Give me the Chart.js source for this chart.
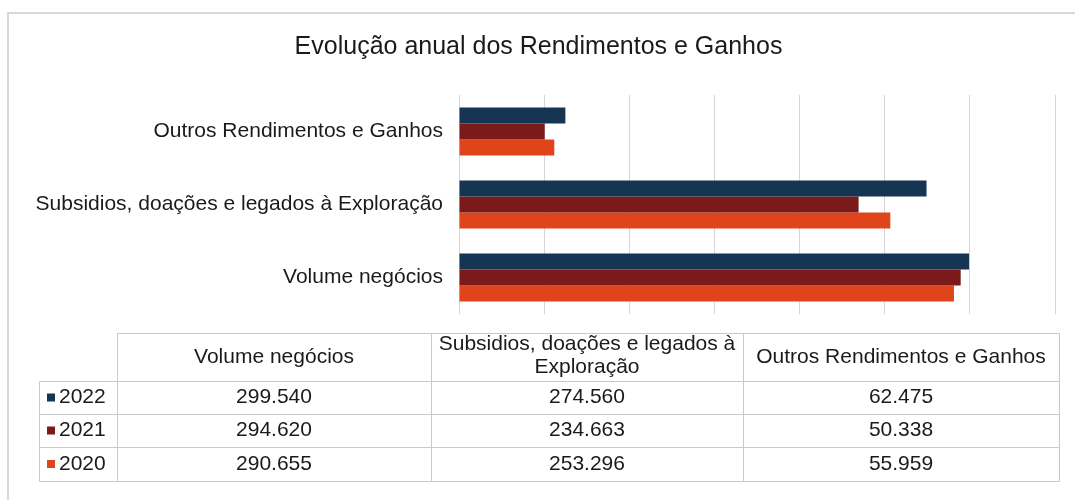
<!DOCTYPE html>
<html>
<head>
<meta charset="utf-8">
<script src="https://cdn.jsdelivr.net/npm/chart.js@4/dist/chart.umd.min.js"></script>
<style>
html,body{margin:0;padding:0;background:#fff;}
#wrap{position:relative;width:1075px;height:500px;}
</style>
</head>
<body>
<div id="wrap"><canvas id="c" width="1075" height="500"></canvas></div>
<script>
// ---- data ----
const titleText = 'Evolução anual dos Rendimentos e Ganhos';
const categories = ['Volume negócios', 'Subsidios, doações e legados à Exploração', 'Outros Rendimentos e Ganhos'];
const years = ['2022', '2021', '2020'];
const values2022 = [299540, 274560, 62475];
const values2021 = [294620, 234663, 50338];
const values2020 = [290655, 253296, 55959];
const xTickValues = [0, 50000, 100000, 150000, 200000, 250000, 300000, 350000];

const seriesValues = [values2022, values2021, values2020];
const seriesColors = ['#163552', '#7a1a1a', '#e0441a'];
const FONT = '"Liberation Sans", Arial, sans-serif';

function fmt(v) {
  return String(v).replace(/\B(?=(\d{3})+(?!\d))/g, '.');
}

// chart categories run top-to-bottom in reverse table order
const chartLabels = categories.slice().reverse();
const datasets = years.map((y, i) => ({
  label: y,
  data: seriesValues[i].slice().reverse(),
  backgroundColor: seriesColors[i],
  borderWidth: 0,
  categoryPercentage: 0.66,
  barPercentage: 1.0
}));

const framePlugin = {
  id: 'frame',
  beforeDraw(chart) {
    const ctx = chart.ctx;
    ctx.save();
    ctx.fillStyle = '#fff';
    ctx.fillRect(0, 0, chart.width, chart.height);
    ctx.strokeStyle = '#d9d9d9';
    ctx.lineWidth = 2;
    ctx.beginPath();
    ctx.moveTo(8, 500); ctx.lineTo(8, 13); ctx.lineTo(1075, 13);
    ctx.stroke();
    ctx.restore();
  }
};

const tablePlugin = {
  id: 'dataTable',
  afterDraw(chart) {
    const ctx = chart.ctx;
    const colX = [117, 431, 743, 1059];
    const legL = 39;
    const rowY = [333, 381, 414, 447, 481];
    ctx.save();
    ctx.strokeStyle = '#c9c9c9';
    ctx.lineWidth = 1;
    ctx.beginPath();
    ctx.moveTo(colX[0] + 0.5, rowY[0] + 0.5); ctx.lineTo(colX[3] + 0.5, rowY[0] + 0.5);
    for (let r = 1; r < rowY.length; r++) {
      ctx.moveTo(legL + 0.5, rowY[r] + 0.5); ctx.lineTo(colX[3] + 0.5, rowY[r] + 0.5);
    }
    ctx.moveTo(legL + 0.5, rowY[1] + 0.5); ctx.lineTo(legL + 0.5, rowY[4] + 0.5);
    for (let c = 0; c < colX.length; c++) {
      ctx.moveTo(colX[c] + 0.5, rowY[0] + 0.5); ctx.lineTo(colX[c] + 0.5, rowY[4] + 0.5);
    }
    ctx.stroke();

    ctx.fillStyle = '#1a1a1a';
    ctx.font = '21px ' + FONT;
    ctx.textAlign = 'center';
    ctx.textBaseline = 'middle';
    categories.forEach((cat, c) => {
      const cx = (colX[c] + colX[c + 1]) / 2;
      const maxW = colX[c + 1] - colX[c] - 6;
      if (ctx.measureText(cat).width > maxW) {
        const words = cat.split(' ');
        let line = '', lines = [];
        words.forEach(w => {
          const t = line ? line + ' ' + w : w;
          if (ctx.measureText(t).width > maxW && line) { lines.push(line); line = w; }
          else line = t;
        });
        lines.push(line);
        lines.forEach((l, i) => ctx.fillText(l, cx, 356 + (i - (lines.length - 1) / 2) * 23));
      } else {
        ctx.fillText(cat, cx, 357);
      }
    });
    years.forEach((y, r) => {
      const cy = (rowY[r + 1] + rowY[r + 2]) / 2;
      ctx.fillStyle = seriesColors[r];
      ctx.fillRect(47, cy - 4, 8, 8);
      ctx.fillStyle = '#1a1a1a';
      ctx.textAlign = 'left';
      ctx.fillText(y, 59, cy);
      ctx.textAlign = 'center';
      seriesValues[r].forEach((v, c) => {
        ctx.fillText(fmt(v), (colX[c] + colX[c + 1]) / 2, cy);
      });
    });
    ctx.restore();
  }
};

new Chart(document.getElementById('c'), {
  type: 'bar',
  data: { labels: chartLabels, datasets },
  plugins: [framePlugin, tablePlugin],
  options: {
    indexAxis: 'y',
    responsive: false,
    animation: false,
    layout: { padding: { left: 22, right: 20, top: 0, bottom: 186 } },
    plugins: {
      legend: { display: false },
      tooltip: { enabled: false },
      title: {
        display: true,
        text: titleText,
        color: '#1a1a1a',
        font: { family: FONT, size: 25, weight: 'normal' },
        padding: { top: 32, bottom: 33 }
      }
    },
    scales: {
      x: {
        min: xTickValues[0],
        max: xTickValues[xTickValues.length - 1],
        afterBuildTicks(s) { s.ticks = xTickValues.map(v => ({ value: v })); },
        afterFit(s) { s.height = 0; },
        ticks: { display: false },
        grid: { color: '#d6d6d6', lineWidth: 1, drawTicks: false },
        border: { display: false }
      },
      y: {
        afterFit(s) { s.width = 437; },
        grid: { display: false, drawTicks: false },
        border: { display: false },
        ticks: { color: '#1a1a1a', padding: 16, font: { family: FONT, size: 21 } }
      }
    }
  }
});
</script>
</body>
</html>
